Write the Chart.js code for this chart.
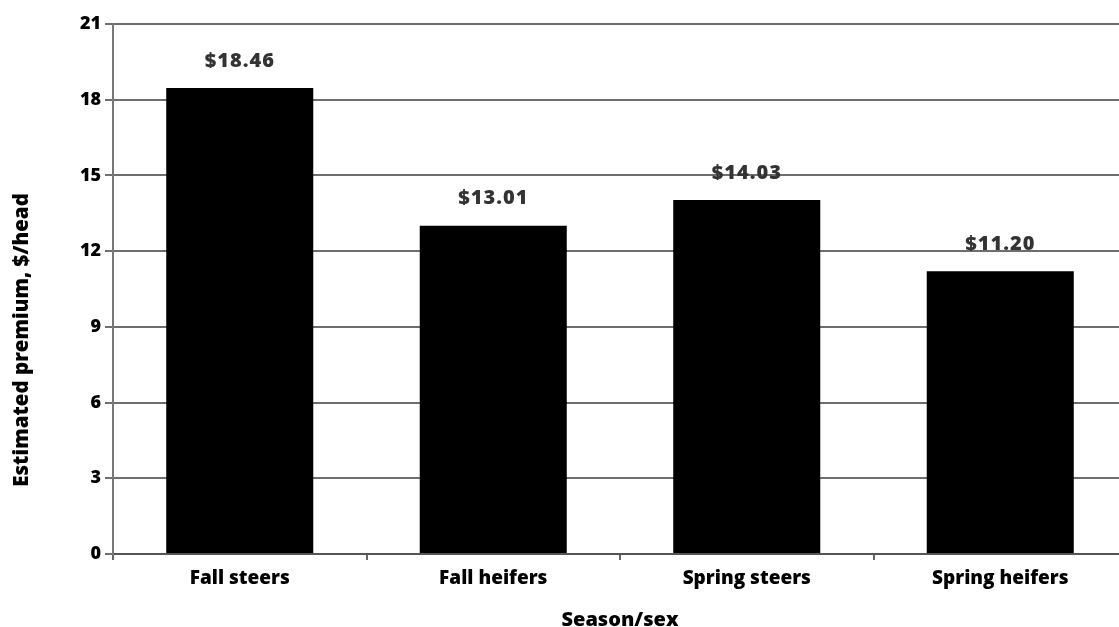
<!DOCTYPE html>
<html>
<head>
<meta charset="utf-8">
<script src="https://cdn.jsdelivr.net/npm/chart.js@4"></script>
<style>
  html, body { margin: 0; padding: 0; background: #fff; overflow: hidden; }
  #wrap { width: 1127px; height: 627px; }
</style>
</head>
<body>
<div id="wrap"><canvas id="premiumChart" width="1127" height="627"></canvas></div>
<script>
// categories and values
const categories = ['Fall steers', 'Fall heifers', 'Spring steers', 'Spring heifers'];
const premiums = [18.46, 13.01, 14.03, 11.20];
const yTicks = [0, 3, 6, 9, 12, 15, 18, 21];
const yTitle = 'Estimated premium, $/head';

const FONT = '"Open Sans", Lato, sans-serif';

// writes "$xx.xx" above each bar, positioned from the bar elements
const valueLabels = {
  id: 'valueLabels',
  afterDatasetsDraw(chart) {
    const { ctx } = chart;
    const meta = chart.getDatasetMeta(0);
    ctx.save();
    ctx.font = '800 20px ' + FONT;
    ctx.letterSpacing = '1px';
    ctx.fillStyle = '#333';
    ctx.textAlign = 'center';
    ctx.textBaseline = 'middle';
    meta.data.forEach((bar, i) => {
      ctx.fillText('$' + premiums[i].toFixed(2), bar.x, bar.y - 27);
    });
    ctx.restore();
  }
};

// y-axis title sits lower than the axis centre in the original
const yAxisTitle = {
  id: 'yAxisTitle',
  afterDraw(chart) {
    const { ctx } = chart;
    ctx.save();
    ctx.font = '800 20.5px ' + FONT;
    ctx.fillStyle = '#000';
    ctx.textAlign = 'center';
    ctx.textBaseline = 'middle';
    ctx.translate(22, 340);
    ctx.rotate(-Math.PI / 2);
    ctx.fillText(yTitle, 0, 0);
    ctx.restore();
  }
};

new Chart(document.getElementById('premiumChart'), {
  type: 'bar',
  data: {
    labels: categories,
    datasets: [{
      data: premiums,
      backgroundColor: '#000',
      borderWidth: 0,
      categoryPercentage: 1,
      barPercentage: 0.58
    }]
  },
  options: {
    responsive: false,
    animation: false,
    layout: { padding: { top: 24, right: 0, bottom: 0, left: 0 } },
    plugins: { legend: { display: false }, tooltip: { enabled: false } },
    scales: {
      x: {
        offset: true,
        grid: { display: true, offset: true, drawOnChartArea: false, drawTicks: true, tickLength: 6, color: '#666', lineWidth: 2 },
        border: { display: true, color: '#555', width: 2 },
        ticks: { color: '#000', font: { family: FONT, size: 19, weight: 800 }, padding: 7 },
        title: { display: true, text: 'Season/sex', color: '#000', font: { family: FONT, size: 20, weight: 800 }, padding: { top: 14, bottom: -5 } },
        afterFit(scale) { scale.height = 73; }
      },
      y: {
        min: 0,
        max: 21,
        afterBuildTicks(scale) { scale.ticks = yTicks.map(v => ({ value: v })); },
        grid: { color: '#6e6e6e', lineWidth: 2, drawTicks: true, tickLength: 8 },
        border: { display: true, color: '#777', width: 2 },
        ticks: { color: '#000', font: { family: FONT, size: 18, weight: 800 }, padding: 4 },
        title: { display: false },
        afterFit(scale) { scale.width = 113; }
      }
    }
  },
  plugins: [valueLabels, yAxisTitle]
});
</script>
</body>
</html>
